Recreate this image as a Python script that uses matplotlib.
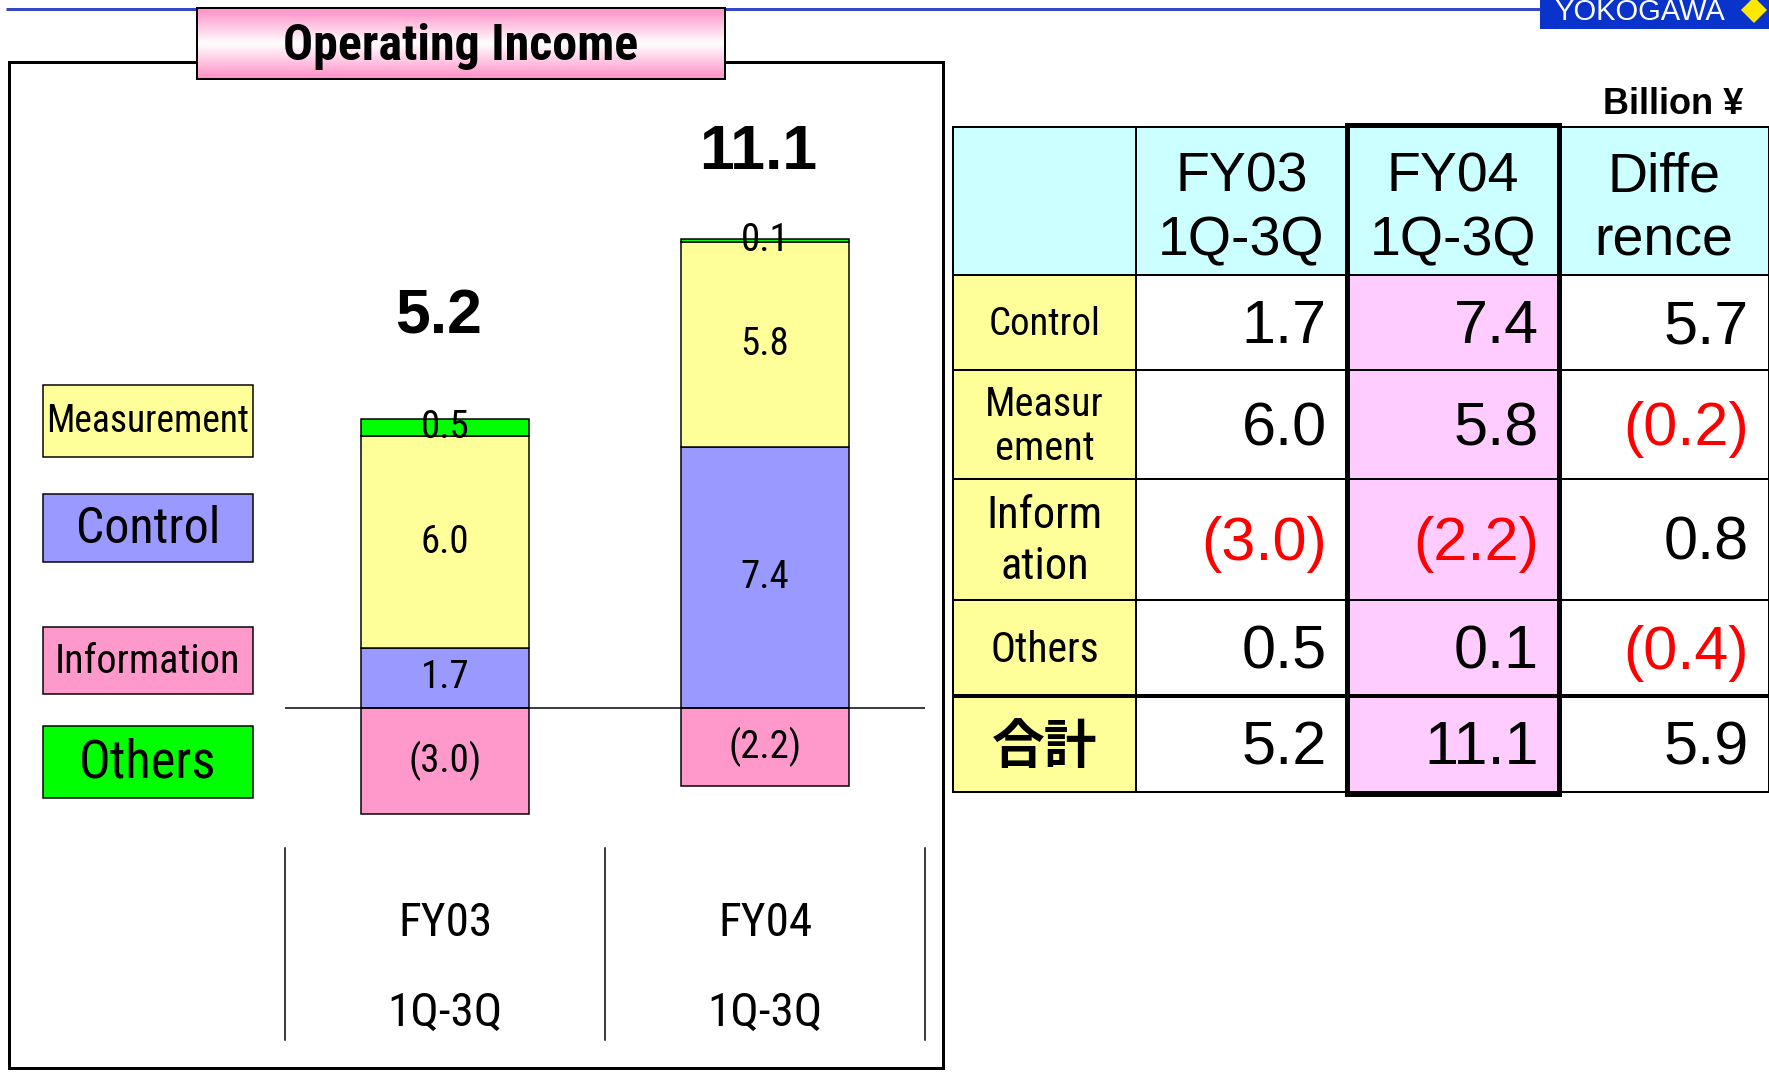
import numpy as np
import matplotlib
import matplotlib.pyplot as plt
import matplotlib.transforms as mtransforms
from matplotlib import font_manager
from matplotlib.patches import Rectangle, Polygon

# ---- data -------------------------------------------------------------
segments = ["Control", "Measurement", "Information", "Others"]
period_top = ["FY03", "FY04"]
period_bottom = ["1Q-3Q", "1Q-3Q"]
fy03 = [1.7, 6.0, -3.0, 0.5]
fy04 = [7.4, 5.8, -2.2, 0.1]
diff = [5.7, -0.2, 0.8, -0.4]
totals = [5.2, 11.1]
total_diff = 5.9

legend_labels = ["Measurement", "Control", "Information", "Others"]
table_headers = ["FY03\n1Q-3Q", "FY04\n1Q-3Q", "Diffe\nrence"]
table_row_labels = ["Control", "Measur\nement", "Inform\nation", "Others", "合計"]

# ---- style ------------------------------------------------------------
seg_colors = {"Control": "#9999FF", "Measurement": "#FFFF99",
              "Information": "#FF99CC", "Others": "#00FF00"}
ARIAL = ["Liberation Sans"]
CJK = ["Noto Sans CJK JP", "DejaVu Sans"]

# pick a narrow sans if one is installed
installed = {(f.name, f.stretch) for f in font_manager.fontManager.ttflist}
names = {n for n, _ in installed}
narrow_kw = dict(family=["Liberation Sans"])
for cand in ["Liberation Sans Narrow", "Arial Narrow", "Roboto Condensed",
             "Open Sans Condensed"]:
    if cand in names:
        narrow_kw = dict(family=[cand])
        break
else:
    if any(n == "DejaVu Sans" and s in ("condensed", "semi-condensed", 75, 87)
           for n, s in installed):
        narrow_kw = dict(family=["DejaVu Sans"], fontstretch="condensed")
    elif any(n == "Roboto" and s in ("condensed", 75) for n, s in installed):
        narrow_kw = dict(family=["Roboto"], fontstretch="condensed")

W, H = 1769, 1072
fig = plt.figure(figsize=(W / 100, H / 100), dpi=100)

# pixel canvas for frames, legend and table
cv = fig.add_axes([0, 0, 1, 1])
cv.set_xlim(0, W)
cv.set_ylim(H, 0)
cv.axis("off")

def px(p):
    return p * 0.72  # pixels -> points

# top blue rule and logo
cv.plot([6, 1540], [9, 9], color="#3347C8", lw=px(3), solid_capstyle="butt")
cv.add_patch(Rectangle((1540, 0), 229, 29, facecolor="#0A33CC", edgecolor="none"))
cv.text(1640, 12, "YOKOGAWA", color="white", fontsize=21, family=ARIAL,
        ha="center", va="center")
cv.add_patch(Polygon([(1754, -3), (1767, 10), (1754, 23), (1741, 10)],
                     closed=True, facecolor="#FFE800", edgecolor="none"))

# left panel frame
cv.add_patch(Rectangle((9, 62), 934, 1006, facecolor="none", edgecolor="black",
                       lw=px(3)))

# title box with pink gradient
t = np.linspace(0, 1, 64)
mix = np.clip(np.abs(t - 0.5) * 2.2, 0, 1)[:, None]
pink = np.array([1.0, 0.6, 0.8])
grad = (1 - mix) * np.array([1.0, 1.0, 1.0]) + mix * pink
cv.imshow(grad[:, None, :], extent=[197, 725, 79, 8], aspect="auto", zorder=3)
cv.add_patch(Rectangle((197, 8), 528, 71, facecolor="none", edgecolor="black",
                       lw=px(2), zorder=4))
cv.text(461, 47, "Operating Income", fontsize=36, fontweight="bold", **narrow_kw,
        ha="center", va="center", zorder=5)

# legend boxes
legend_boxes = [(385, 457, 27), (494, 562, 36), (627, 694, 29), (726, 798, 38)]
for lab, (y0, y1, fs) in zip(legend_labels, legend_boxes):
    cv.add_patch(Rectangle((43, y0), 210, y1 - y0, facecolor=seg_colors[lab],
                           edgecolor="black", lw=px(1.5)))
    cv.text(148, (y0 + y1) / 2 + 1, lab, fontsize=fs, **narrow_kw,
            ha="center", va="center")

# ---- stacked bars -------------------------------------------------------
zero_px, ppu = 708, 35.3
top_px, bot_px = 100, 840
ax = fig.add_axes([285 / W, (H - bot_px) / H, 640 / W, (bot_px - top_px) / H])
ax.patch.set_alpha(0)
ax.set_xlim(-0.5, 1.5)
ax.set_ylim((zero_px - bot_px) / ppu, (zero_px - top_px) / ppu)
ax.axis("off")

def fmt(v):
    return f"({abs(v):.1f})" if v < 0 else f"{v:.1f}"

bar_w = 0.525
for i, vals in enumerate([fy03, fy04]):
    pos, neg = 0.0, 0.0
    for seg, v in zip(segments, vals):
        base = pos if v >= 0 else neg
        ax.bar(i, v, bottom=base, width=bar_w, color=seg_colors[seg],
               edgecolor="black", linewidth=px(1.5), zorder=2)
        ax.text(i, base + v / 2, fmt(v), fontsize=28, **narrow_kw,
                ha="center", va="center", zorder=4)
        if v >= 0:
            pos += v
        else:
            neg += v
    offset = [2.87, 2.45][i]
    ax.text(i - 0.02, pos + offset, f"{totals[i]:.1f}", fontsize=45,
            fontweight="bold", family=ARIAL, ha="center", va="center")

ax.axhline(0, color="black", lw=px(1.5), zorder=3)

# category labels below the plot
blend = mtransforms.blended_transform_factory(ax.transData, cv.transData)
for i in range(len(period_top)):
    ax.text(i, 923, period_top[i], transform=blend, fontsize=34, **narrow_kw,
            ha="center", va="center", clip_on=False)
    ax.text(i, 1013, period_bottom[i], transform=blend, fontsize=34, **narrow_kw,
            ha="center", va="center", clip_on=False)
for xs in [-0.5, 0.5, 1.5]:
    ax.plot([xs, xs], [848, 1040], transform=blend, color="black", lw=px(1.5),
            clip_on=False)

# ---- table ---------------------------------------------------------------
col_x = [953, 1136, 1347, 1559, 1769]
row_y = [127, 275, 370, 479, 600, 696, 792]
fy03_col = fy03 + [totals[0]]
fy04_col = fy04 + [totals[1]]
diff_col = diff + [total_diff]

cv.text(1743, 104, "Billion ¥", fontsize=26, fontweight="bold", family=ARIAL,
        ha="right", va="center")

for r in range(len(row_y) - 1):
    for c in range(len(col_x) - 1):
        if r == 0:
            fc = "#CCFFFF"
        elif c == 0:
            fc = "#FFFF99"
        elif c == 2:
            fc = "#FFCCFF"
        else:
            fc = "white"
        cv.add_patch(Rectangle((col_x[c], row_y[r]), col_x[c + 1] - col_x[c],
                               row_y[r + 1] - row_y[r], facecolor=fc,
                               edgecolor="black", lw=px(2)))

# header text
for c, h in enumerate(table_headers):
    xc = (col_x[c + 1] + col_x[c + 2]) / 2
    cv.text(xc, 209, h, fontsize=40, family=ARIAL, ha="center", va="center",
            linespacing=1.3)

# row labels and numbers
label_sizes = [28, 29, 32, 30, 38]
label_spacing = [1.0, 1.15, 1.3, 1.0, 1.0]
for r, lab in enumerate(table_row_labels):
    yc = (row_y[r + 1] + row_y[r + 2]) / 2
    if lab == "合計":
        cv.text((col_x[0] + col_x[1]) / 2, yc + 4, lab, fontsize=label_sizes[r],
                fontweight="bold", family=CJK, ha="center", va="center")
    else:
        cv.text((col_x[0] + col_x[1]) / 2, yc + 2, lab, fontsize=label_sizes[r],
                **narrow_kw, ha="center", va="center",
                linespacing=label_spacing[r])
    for c, col in enumerate([fy03_col, fy04_col, diff_col]):
        v = col[r]
        cv.text(col_x[c + 2] - 20, yc + 5, fmt(v), fontsize=44, family=ARIAL,
                color="#FF0000" if v < 0 else "black", ha="right", va="center")

# heavy rules: FY04 column outline and line above the total row
cv.plot([col_x[0], W], [row_y[5], row_y[5]], color="black", lw=px(4),
        solid_capstyle="butt")
cv.add_patch(Rectangle((col_x[2], row_y[0] - 2), col_x[3] - col_x[2],
                       row_y[6] - row_y[0] + 4, facecolor="none",
                       edgecolor="black", lw=px(5)))

fig.savefig("out.png", dpi=100)
